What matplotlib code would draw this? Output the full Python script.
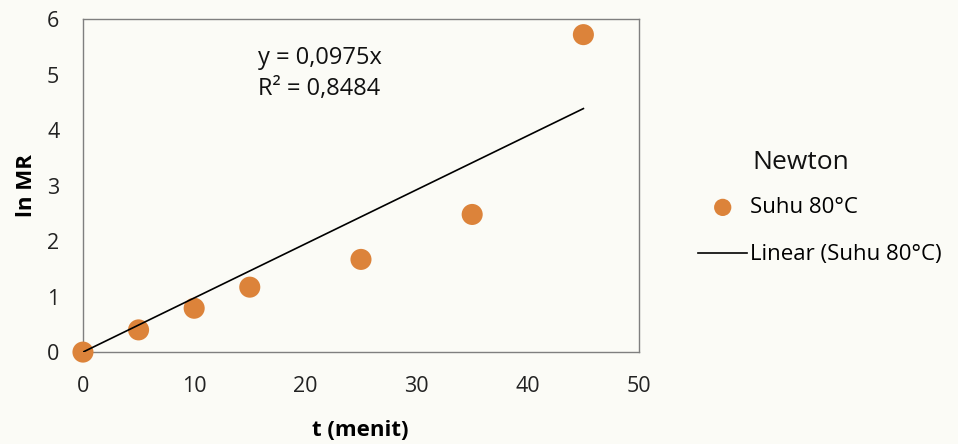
# -*- coding: utf-8 -*-
"""
ln MR vs t (menit) - model Newton, suhu 80°C
"""
import numpy as np
import matplotlib
matplotlib.use("Agg")
import matplotlib.pyplot as plt

# -------------------- dados
t_menit = [0, 5, 10, 15, 25, 35, 45]
ln_mr = [0.0, 0.40, 0.79, 1.17, 1.67, 2.48, 5.72]
slope = 0.0975
r2 = 0.8484
x_ticks = [0, 10, 20, 30, 40, 50]
y_ticks = [0, 1, 2, 3, 4, 5, 6]

ORANGE = "#DC833A"
BG = "#FBFBF6"

plt.rcParams.update({
    "font.family": ["Open Sans", "DejaVu Sans"],
    "font.size": 15,
})

fig = plt.figure(figsize=(9.58, 4.44), dpi=100, facecolor=BG)
ax = fig.add_axes([0.0866, 0.207, 0.5804, 0.750], facecolor=BG)

# pontos
ax.scatter(t_menit, ln_mr, s=230, color=ORANGE, edgecolors="none",
           zorder=3, clip_on=False, label="Suhu 80°C")

# linha de tendência (y = slope*x)
xl = np.array([t_menit[0], t_menit[-1]])
ax.plot(xl, slope * xl, color="black", lw=1.2, zorder=4,
        label="Linear (Suhu 80°C)")

ax.text(15.7, 5.29, f"y = {slope:.4f}x".replace(".", ","), fontsize=17,
        ha="left", va="center", color="#111")
ax.text(15.7, 4.74, f"R² = {r2:.4f}".replace(".", ","), fontsize=17,
        ha="left", va="center", color="#111")

# eixos
ax.set_xlim(0, 50)
ax.set_ylim(0, 6)
ax.set_xticks(x_ticks)
ax.set_yticks(y_ticks)
ax.tick_params(axis="x", length=0, pad=17, labelsize=15.5, colors="#222")
ax.tick_params(axis="y", length=0, pad=17, labelsize=15.5, colors="#222")
for sp in ax.spines.values():
    sp.set_color("#7f7f7f")
    sp.set_linewidth(1.0)

ax.set_xlabel("t (menit)", fontweight="bold", fontsize=16, va="center")
ax.set_ylabel("ln MR", fontweight="bold", fontsize=16, va="center")
ax.xaxis.set_label_coords(0.498, -0.236)
ax.yaxis.set_label_coords(-0.101, 0.5)

# legenda (título alinhado com o texto das entradas, como no Excel)
leg = fig.legend(loc="center left", bbox_to_anchor=(0.708, 0.479),
                 frameon=False, fontsize=16, handlelength=2.2,
                 handletextpad=0.15, labelspacing=1.18, markerscale=0.82)
fig.text(752 / 958, 1 - 162 / 444, "Newton", fontsize=19,
         ha="left", va="center", color="#111")

fig.savefig("out.png", dpi=100, facecolor=BG)
